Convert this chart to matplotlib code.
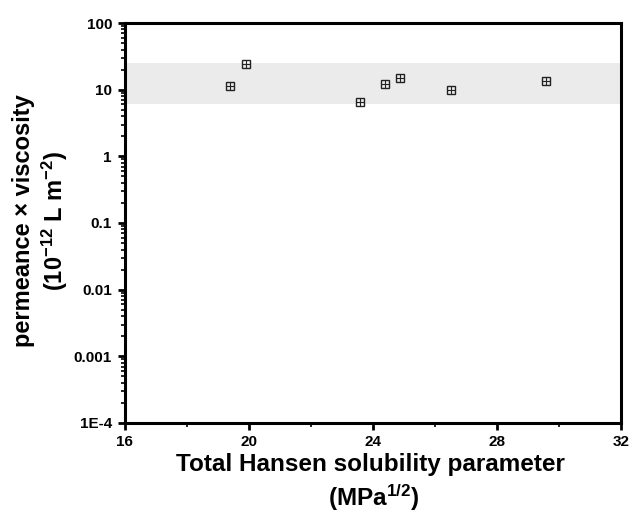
import matplotlib
matplotlib.use('Agg')
from matplotlib import pyplot as plt
from matplotlib.ticker import FixedLocator, LogLocator, NullFormatter

plt.rcParams['font.family'] = ['Liberation Sans', 'DejaVu Sans']
plt.rcParams['font.weight'] = 'bold'
plt.rcParams['mathtext.fontset'] = 'custom'
plt.rcParams['mathtext.rm'] = 'Liberation Sans:bold'
plt.rcParams['mathtext.bf'] = 'Liberation Sans:bold'
plt.rcParams['mathtext.it'] = 'Liberation Sans:bold'
plt.rcParams['mathtext.default'] = 'rm'

# solvents: total Hansen parameter vs permeance x viscosity
hansen = [19.40, 19.91, 23.60, 24.40, 24.89, 26.51, 29.58]
perm_visc = [11.5, 24.1, 6.5, 12.1, 14.9, 9.8, 13.7]
band_low, band_high = 6.2, 25.5

yticks = [1e-4, 1e-3, 1e-2, 1e-1, 1, 10, 100]
ytick_labels = ['1E-4', '0.001', '0.01', '0.1', '1', '10', '100']
xticks = [16, 20, 24, 28, 32]

fig = plt.figure(figsize=(6.29, 5.12), dpi=100)
ax = fig.add_axes([124.5 / 629, 1 - 423 / 512, 496.5 / 629, 400 / 512])

ax.axhspan(band_low, band_high, color='#ebebeb', lw=0, zorder=0)
ax.plot(hansen, perm_visc, 's', ms=5.5, mfc='none', mec='#222222', mew=1.0, zorder=3)
ax.plot(hansen, perm_visc, '+', ms=5.5, mec='#222222', mew=0.8, zorder=3)

ax.set_yscale('log')
ax.set_ylim(1e-4, 100)
ax.set_xlim(16, 32)
ax.set_yticks(yticks)
ax.set_yticklabels(ytick_labels)
ax.yaxis.set_minor_locator(LogLocator(base=10, subs=range(2, 10), numticks=20))
ax.yaxis.set_minor_formatter(NullFormatter())
ax.set_xticks(xticks)
ax.xaxis.set_minor_locator(FixedLocator([18, 22, 26, 30]))

for s in ax.spines.values():
    s.set_linewidth(2.2)
ax.tick_params(which='major', direction='out', length=5, width=2, labelsize=11, pad=4)
ax.tick_params(which='minor', direction='out', length=3, width=1.2)

# axis titles
fig.text(370 / 629, 1 - 471 / 512, 'Total Hansen solubility parameter', fontsize=17.5,
         fontweight='bold', ha='center', va='baseline')
fig.text(374 / 629, 1 - 506 / 512, '(MPa$^{1/2}$)', fontsize=17.5,
         fontweight='bold', ha='center', va='baseline')
ax.set_ylabel('permeance × viscosity\n(10$^{-12}$ L m$^{-2}$)', fontsize=17,
              fontweight='bold', linespacing=1.2, va='center')
ax.yaxis.set_label_coords((41 - 124.5) / 496.5, 0.505)

fig.savefig('out.png', dpi=100)
